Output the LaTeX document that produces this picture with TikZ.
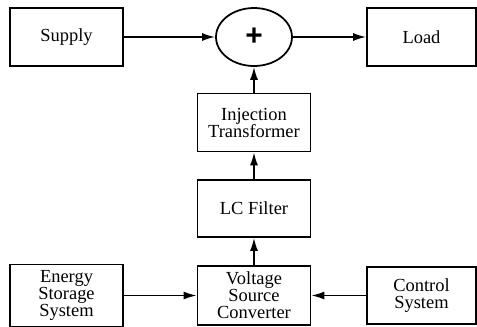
\documentclass[tikz,border=0pt]{standalone}
\usepackage{fontspec}
\setmainfont{Liberation Serif}
\setsansfont{Liberation Sans}
\usetikzlibrary{arrows.meta,shapes.geometric}
\begin{document}
\begin{tikzpicture}[x=0.02cm,y=-0.02cm,
        blk/.style={draw, line width=1pt, minimum width=2.26cm, minimum height=1.16cm,
            align=center, font=\fontsize{10.5}{9.7}\selectfont},
        flow/.style={-{Latex[length=2.6mm,width=1.6mm]}, line width=0.9pt}]
        \useasboundingbox (0,0) rectangle (477,326);
        % top row
        \node[blk] (supply) at (66.5,37) {Supply};
        \node[draw, ellipse, line width=1pt, minimum width=1.52cm, minimum height=1.16cm,
            font=\fontsize{17}{17}\selectfont\sffamily\bfseries] (sum) at (254,37) {+};
        \node[blk, minimum width=2.18cm] (load) at (421.5,37) {Load};
        % middle column
        \node[blk] (inj) at (254,122.5) {Injection\\Transformer};
        \node[blk, minimum height=1.14cm] (lc) at (254,208.5) {LC Filter};
        % bottom row
        \node[blk, minimum height=1.14cm] (ess) at (66.5,295.5) {Energy\\Storage\\System};
        \node[blk, minimum height=1.14cm] (vsc) at (254,295.5) {Voltage\\Source\\Converter};
        \node[blk, minimum width=2.18cm, minimum height=1.14cm] (ctrl) at (421.5,295.5) {Control\\System};
        \draw[flow] (supply) -- (sum);
        \draw[flow] (sum) -- (load);
        \draw[flow] (inj) -- (sum);
        \draw[flow] (lc) -- (inj);
        \draw[flow] (vsc) -- (lc);
        \draw[flow] (ess) -- (vsc);
        \draw[flow] (ctrl) -- (vsc);
    \end{tikzpicture}
\end{document}
